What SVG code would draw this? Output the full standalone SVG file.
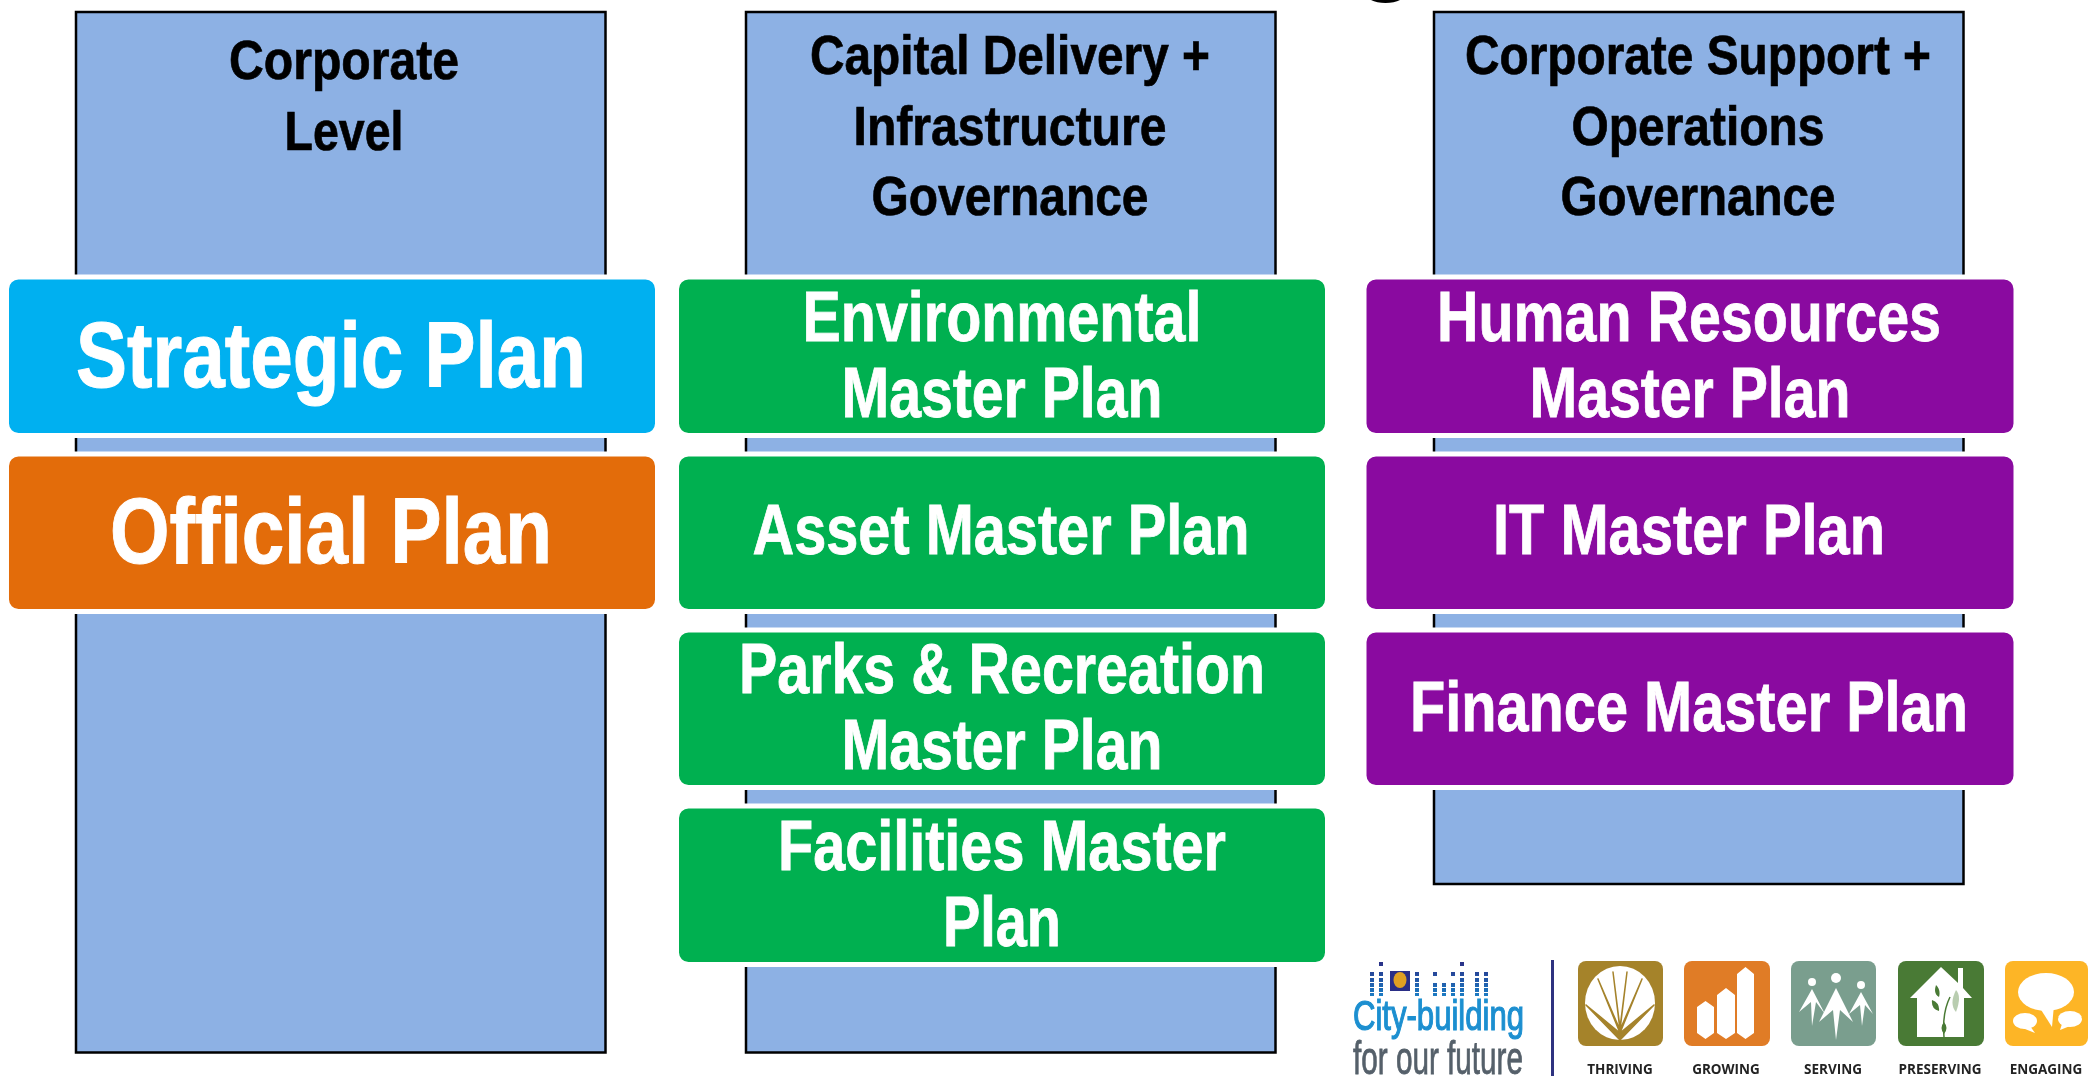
<svg xmlns="http://www.w3.org/2000/svg" width="2088" height="1076" viewBox="0 0 2088 1076">
<style>
.col{fill:#8db1e4;stroke:#000;stroke-width:2.500}
.plan{stroke:#fff;stroke-width:5}
.sky{fill:#00b0f0}.org{fill:#e36c0a}.grn{fill:#00b050}.pur{fill:#8a0aa0}
text{font-family:"Liberation Sans",Arial,sans-serif;font-weight:700;text-anchor:middle}
.h{font-size:55px;fill:#000;stroke:#000;stroke-width:.7}
.m{font-size:70px;fill:#fff;stroke:#fff;stroke-width:.8}
.b{font-size:93px;fill:#fff;stroke:#fff;stroke-width:1}
.lab{font-family:"Open Sans","Liberation Sans",sans-serif;font-size:13.500px;fill:#222}
.w{fill:#fff}
</style>
<defs>
<filter id="soft" x="-5%" y="-5%" width="110%" height="110%"><feGaussianBlur stdDeviation="0.6"/></filter>
<linearGradient id="dots" x1="0" y1="0" x2="0" y2="1"><stop offset="0" stop-color="#2b2f86"/><stop offset="1" stop-color="#1a7cc4"/></linearGradient>
</defs>
<path id="title-fragment" d="M1371 0C1378 4 1393 4 1400 0Z" fill="#000"/>
<g id="col-corporate"><rect class="col" x="76" y="12" width="529.500" height="1040.500"/>
<text class="h" x="344" y="79" textLength="230" lengthAdjust="spacingAndGlyphs">Corporate</text>
<text class="h" x="344" y="150" textLength="119" lengthAdjust="spacingAndGlyphs">Level</text></g>
<g id="col-capital"><rect class="col" x="746" y="12" width="529.500" height="1040.500"/>
<text class="h" x="1010" y="74" textLength="400" lengthAdjust="spacingAndGlyphs">Capital Delivery +</text>
<text class="h" x="1010" y="145" textLength="313" lengthAdjust="spacingAndGlyphs">Infrastructure</text>
<text class="h" x="1010" y="215" textLength="277" lengthAdjust="spacingAndGlyphs">Governance</text></g>
<g id="col-support"><rect class="col" x="1434" y="12" width="529.500" height="872"/>
<text class="h" x="1698" y="74" textLength="466" lengthAdjust="spacingAndGlyphs">Corporate Support +</text>
<text class="h" x="1698" y="145" textLength="253" lengthAdjust="spacingAndGlyphs">Operations</text>
<text class="h" x="1698" y="215" textLength="275" lengthAdjust="spacingAndGlyphs">Governance</text></g>
<g id="strategic"><rect class="plan sky" x="6.500" y="277" width="651" height="158.500" rx="12"/><text class="b" x="331" y="387" textLength="510" lengthAdjust="spacingAndGlyphs">Strategic Plan</text></g>
<g id="official"><rect class="plan org" x="6.500" y="454" width="651" height="157.500" rx="12"/><text class="b" x="331" y="563" textLength="442" lengthAdjust="spacingAndGlyphs">Official Plan</text></g>
<g id="environmental"><rect class="plan grn" x="676.500" y="277" width="651" height="158.500" rx="12"/><text class="m" x="1002" y="341" textLength="399" lengthAdjust="spacingAndGlyphs">Environmental</text><text class="m" x="1002" y="417" textLength="321" lengthAdjust="spacingAndGlyphs">Master Plan</text></g>
<g id="asset"><rect class="plan grn" x="676.500" y="454" width="651" height="157.500" rx="12"/><text class="m" x="1001" y="554" textLength="497" lengthAdjust="spacingAndGlyphs">Asset Master Plan</text></g>
<g id="parks"><rect class="plan grn" x="676.500" y="630" width="651" height="157.500" rx="12"/><text class="m" x="1002" y="693" textLength="526" lengthAdjust="spacingAndGlyphs">Parks &amp; Recreation</text><text class="m" x="1002" y="769" textLength="321" lengthAdjust="spacingAndGlyphs">Master Plan</text></g>
<g id="facilities"><rect class="plan grn" x="676.500" y="806" width="651" height="158.500" rx="12"/><text class="m" x="1002" y="870" textLength="448" lengthAdjust="spacingAndGlyphs">Facilities Master</text><text class="m" x="1002" y="946" textLength="118" lengthAdjust="spacingAndGlyphs">Plan</text></g>
<g id="hr"><rect class="plan pur" x="1364" y="277" width="652" height="158.500" rx="12"/><text class="m" x="1689" y="341" textLength="504" lengthAdjust="spacingAndGlyphs">Human Resources</text><text class="m" x="1690" y="417" textLength="321" lengthAdjust="spacingAndGlyphs">Master Plan</text></g>
<g id="it"><rect class="plan pur" x="1364" y="454" width="652" height="157.500" rx="12"/><text class="m" x="1689" y="554" textLength="392" lengthAdjust="spacingAndGlyphs">IT Master Plan</text></g>
<g id="finance"><rect class="plan pur" x="1364" y="630" width="652" height="157.500" rx="12"/><text class="m" x="1689" y="731" textLength="558" lengthAdjust="spacingAndGlyphs">Finance Master Plan</text></g>
<g id="connectors"/>
<g id="logo" filter="url(#soft)">
<g fill="url(#dots)">
<path id="dotpath" d="M1370 972h4v4h-4zM1379 972h4v4h-4zM1370 978h4v4h-4zM1379 978h4v4h-4zM1370 983h4v4h-4zM1379 983h4v4h-4zM1370 988h4v4h-4zM1379 988h4v4h-4zM1370 993h4v3h-4zM1379 993h4v3h-4zM1379 962h4v4h-4zM1415 972h4v4h-4zM1415 978h4v4h-4zM1415 983h4v4h-4zM1415 988h4v4h-4zM1415 993h4v3h-4zM1433 972h4v4h-4zM1433 983h4v4h-4zM1433 988h4v4h-4zM1433 993h4v3h-4zM1442 983h4v4h-4zM1442 988h4v4h-4zM1442 993h4v3h-4zM1451 972h4v4h-4zM1451 983h4v4h-4zM1451 988h4v4h-4zM1451 993h4v3h-4zM1460 962h4v4h-4zM1460 972h4v4h-4zM1460 978h4v4h-4zM1460 983h4v4h-4zM1460 988h4v4h-4zM1460 993h4v3h-4zM1475 972h4v4h-4zM1475 978h4v4h-4zM1475 983h4v4h-4zM1475 988h4v4h-4zM1475 993h4v3h-4zM1484 972h4v4h-4zM1484 978h4v4h-4zM1484 983h4v4h-4zM1484 988h4v4h-4zM1484 993h4v3h-4z"/>
</g>
<rect x="1390" y="971" width="20" height="20" fill="#2b2f86"/>
<ellipse cx="1400" cy="980" rx="6.500" ry="8" fill="#e0a020"/>
<text x="1438.500" y="1030" style="font-size:42px;font-weight:400;fill:#1b8fd0;stroke:#1b8fd0;stroke-width:1.200" textLength="171" lengthAdjust="spacingAndGlyphs">City-building</text>
<text x="1438" y="1074" style="font-size:46px;font-weight:400;fill:#55606a;stroke:#55606a;stroke-width:.8" textLength="170" lengthAdjust="spacingAndGlyphs">for our future</text>
<rect x="1551" y="960" width="3" height="116" fill="#2e3080"/>
<g id="thriving"><rect x="1578" y="961" width="85" height="85" rx="8" fill="#a5832c"/>
<ellipse class="w" cx="1620" cy="1003" rx="35" ry="37"/>
<path d="M1620 1040L1586 1005L1620 1033L1598 979L1620 1030L1613 972L1620 1028L1627 972L1620 1030L1642 979L1620 1033L1654 1005Z" fill="#a5832c" stroke="#a5832c" stroke-width="1.500" stroke-linejoin="round"/></g>
<g id="growing"><rect x="1684" y="961" width="86" height="85" rx="8" fill="#e07b25"/>
<path class="w" d="M1697 1007l8.500-6 8.500 6v26l-8.500 6-8.500-6zM1717 995l9-7 9 7v38l-9 6-9-6zM1737 974l8.500-7 8.500 7v59l-8.500 6-8.500-6z"/></g>
<g id="serving"><rect x="1791" y="961" width="85" height="85" rx="8" fill="#7a9e8e"/>
<g class="w"><circle cx="1812" cy="982" r="4"/><circle cx="1836" cy="978" r="5"/><circle cx="1861" cy="985" r="4"/>
<path d="M1812 989L1799 1012L1811 1002L1812 1026L1816 1002L1825 1014Z"/>
<path d="M1836 988L1819 1022L1833 1010L1836 1040L1840 1010L1853 1022Z"/>
<path d="M1861 992L1849 1014L1860 1005L1862 1026L1865 1005L1873 1014Z"/></g></g>
<g id="preserving"><rect x="1898" y="961" width="86" height="85" rx="8" fill="#4a7a35"/>
<path class="w" d="M1941 967L1958 983V968H1963V988L1972 998H1964V1037H1917V998H1910Z"/>
<path d="M1936 985q5 5 3 12q-6-3-3-12zM1932 1000q8 3 7 11q-8-2-7-11zM1944 1022q5 6 0 12q-5-6 0-12z" fill="#4a7a35"/>
<path d="M1956 990q6 6 0 22q-7-8 0-22z" fill="#b9cdb0"/>
<path d="M1944 1037q-2-24 6-40" fill="none" stroke="#4a7a35" stroke-width="1.500"/></g>
<g id="engaging"><rect x="2005" y="961" width="83" height="85" rx="8" fill="#fdb528"/>
<g class="w"><ellipse cx="2046" cy="992" rx="28" ry="19"/><path d="M2038 1005L2052 1027L2054 1005Z"/>
<ellipse cx="2025" cy="1021" rx="12" ry="8"/><path d="M2030 1026L2035 1033L2020 1027Z"/>
<ellipse cx="2070" cy="1019" rx="12" ry="8"/><path d="M2062 1024L2060 1030L2070 1026Z"/></g></g>
<text class="lab" x="1620" y="1074">THRIVING</text>
<text class="lab" x="1726" y="1074">GROWING</text>
<text class="lab" x="1833" y="1074">SERVING</text>
<text class="lab" x="1940" y="1074">PRESERVING</text>
<text class="lab" x="2046" y="1074">ENGAGING</text>
</g>
</svg>
